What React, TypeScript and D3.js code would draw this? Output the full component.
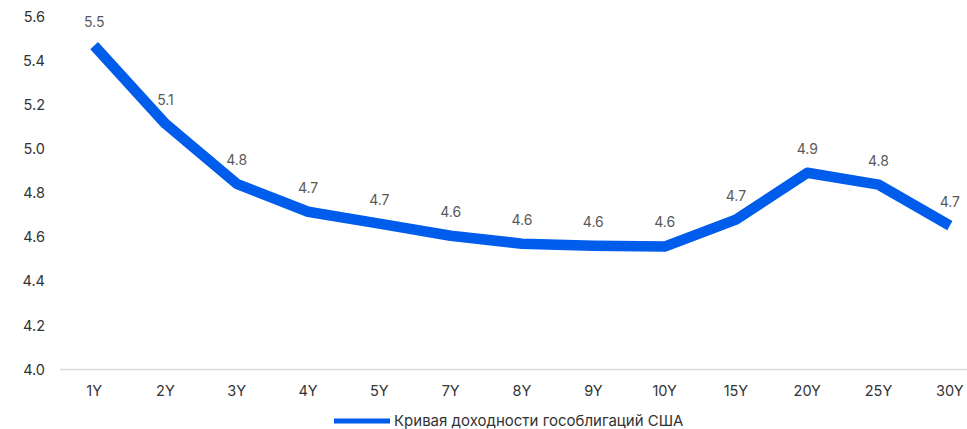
import React, { useEffect, useRef } from 'react';
import * as d3 from 'd3';

const tenors = ['1Y', '2Y', '3Y', '4Y', '5Y', '7Y', '8Y', '9Y', '10Y', '15Y', '20Y', '25Y', '30Y'];
const yields = [5.47, 5.115, 4.843, 4.716, 4.662, 4.607, 4.571, 4.562, 4.558, 4.68, 4.893, 4.839, 4.653];
const yTicks = [4.0, 4.2, 4.4, 4.6, 4.8, 5.0, 5.2, 5.4, 5.6];
const seriesName = 'Кривая доходности гособлигаций США';

const W = 967;
const H = 429;
const FONT = 'Inter, "Noto Sans", sans-serif';
const BLUE = '#005CEB';

const App = () => {
  const svgRef = useRef(null);

  useEffect(() => {
    const svg = d3.select(svgRef.current);
    svg.selectAll('*').remove();

    const x = d3.scaleBand()
      .domain(tenors)
      .range([58.5, 985.5])
      .paddingInner(0)
      .paddingOuter(0);

    const y = d3.scaleLinear()
      .domain([4.0, 5.6])
      .range([369.5, 17]);

    const cx = (d) => x(d) + x.bandwidth() / 2;

    // y tick labels
    svg.append('g')
      .selectAll('text')
      .data(yTicks)
      .enter().append('text')
      .attr('x', 45)
      .attr('y', d => y(d))
      .attr('dy', '0.35em')
      .attr('text-anchor', 'end')
      .attr('font-family', FONT)
      .attr('font-size', 14.5)
      .attr('fill', '#333333')
      .text(d => d.toFixed(1));

    // baseline
    svg.append('line')
      .attr('x1', 60)
      .attr('x2', W)
      .attr('y1', y(4.0))
      .attr('y2', y(4.0))
      .attr('stroke', '#d9d9d9')
      .attr('stroke-width', 1.5);

    // x tick labels
    svg.append('g')
      .selectAll('text')
      .data(tenors)
      .enter().append('text')
      .attr('x', d => cx(d))
      .attr('y', 391)
      .attr('dy', '0.35em')
      .attr('text-anchor', 'middle')
      .attr('font-family', FONT)
      .attr('font-size', 14.5)
      .attr('fill', '#333333')
      .text(d => d);

    const line = d3.line()
      .x((d, i) => cx(tenors[i]))
      .y(d => y(d));

    svg.append('path')
      .datum(yields)
      .attr('d', line)
      .attr('fill', 'none')
      .attr('stroke', BLUE)
      .attr('stroke-width', 10.5)
      .attr('stroke-linejoin', 'round');

    // data labels
    svg.append('g')
      .selectAll('text')
      .data(yields)
      .enter().append('text')
      .attr('x', (d, i) => cx(tenors[i]))
      .attr('y', d => y(d) - 24)
      .attr('dy', '0.35em')
      .attr('text-anchor', 'middle')
      .attr('font-family', FONT)
      .attr('font-size', 14)
      .attr('fill', '#595959')
      .text(d => d.toFixed(1));

    // legend
    const legend = svg.append('g');
    legend.append('line')
      .attr('x1', 334)
      .attr('x2', 390)
      .attr('y1', 421)
      .attr('y2', 421)
      .attr('stroke', BLUE)
      .attr('stroke-width', 5);
    legend.append('text')
      .attr('x', 394)
      .attr('y', 421)
      .attr('dy', '0.35em')
      .attr('font-family', FONT)
      .attr('font-size', 15)
      .attr('fill', '#333333')
      .text(seriesName);
  }, []);

  return (
    <svg ref={svgRef} width={W} height={H} style={{ position: 'absolute', left: 0, top: 0 }}></svg>
  );
};

export default App;
